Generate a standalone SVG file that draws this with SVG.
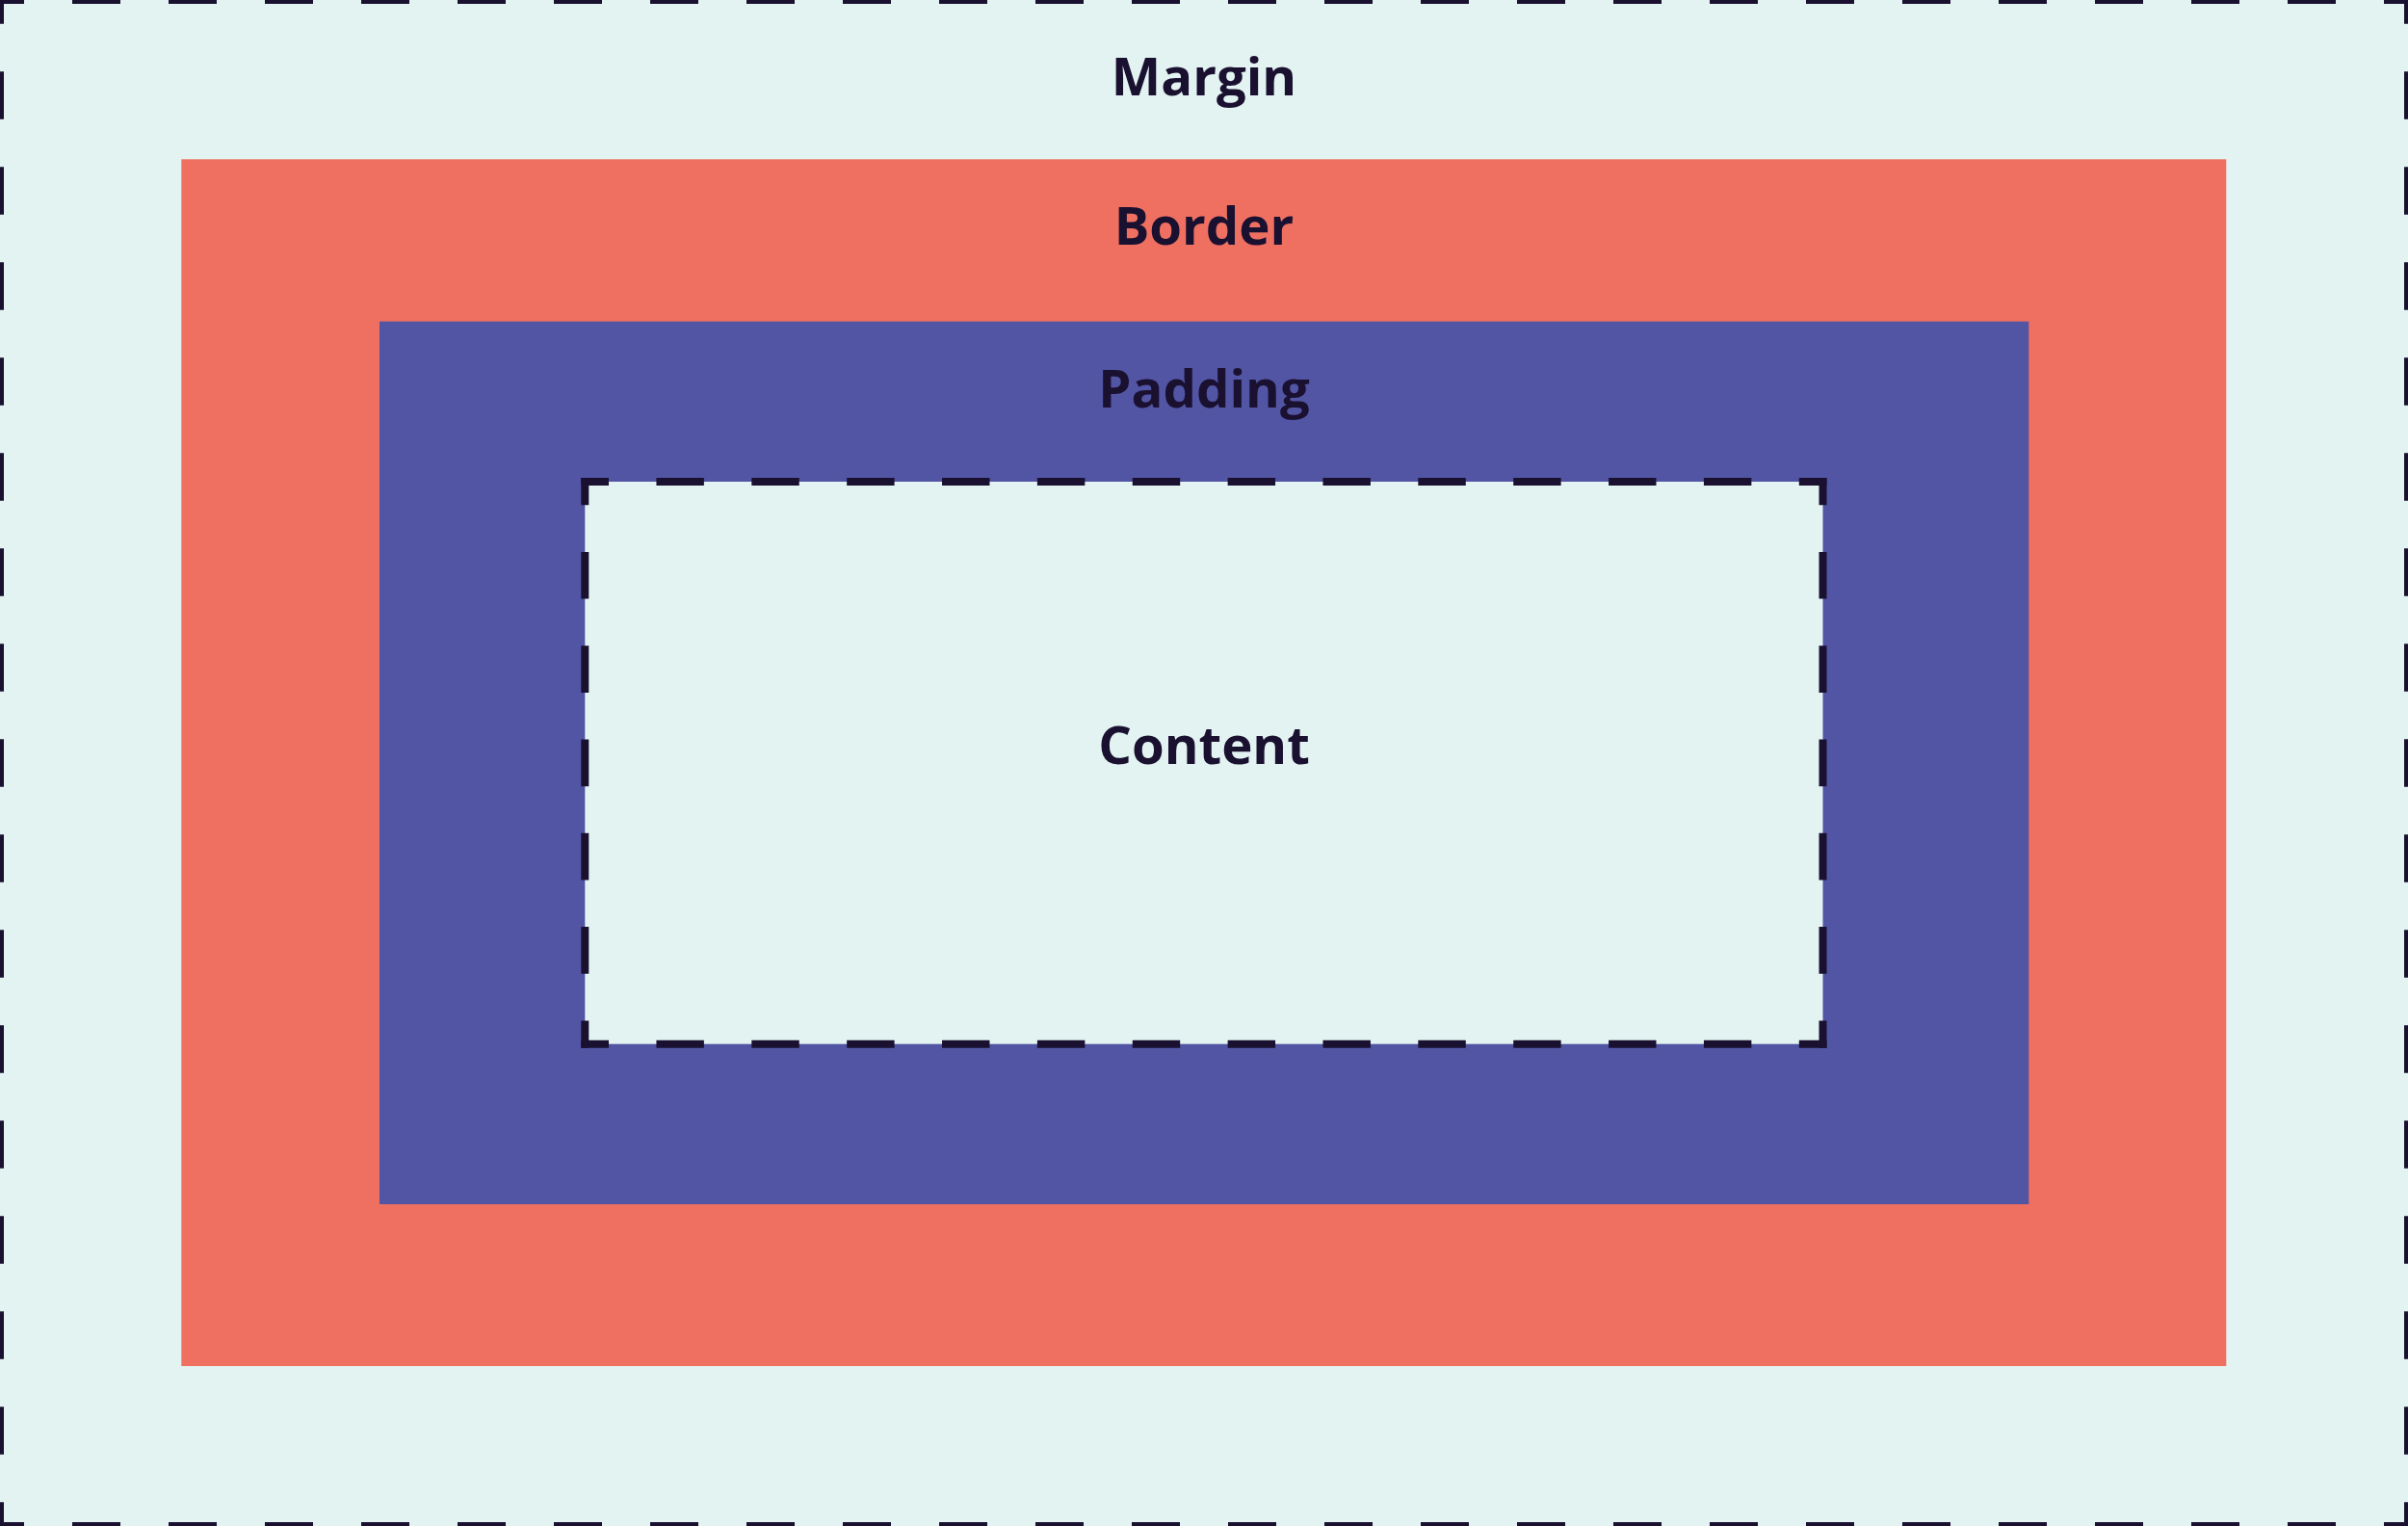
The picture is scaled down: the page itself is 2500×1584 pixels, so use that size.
<svg xmlns="http://www.w3.org/2000/svg" width="2500" height="1584" viewBox="0 0 2500 1584">
  <style>
    .label { font-family: "Open Sans", "Noto Sans", "Liberation Sans", sans-serif; font-weight: 700; font-size: 54.5px; fill: #1a1130; text-anchor: middle; }
    .dash { stroke: #1a1130; stroke-width: 8; stroke-linecap: butt; fill: none; }
  </style>
  <g id="margin">
    <rect x="0" y="0" width="2500" height="1584" fill="#e3f3f2"/>
    <line class="dash" x1="0" y1="0" x2="2500" y2="0" stroke-dasharray="50 50" stroke-dashoffset="25"/>
    <line class="dash" x1="0" y1="1584" x2="2500" y2="1584" stroke-dasharray="50 50" stroke-dashoffset="25"/>
    <line class="dash" x1="0" y1="0" x2="0" y2="1584" stroke-dasharray="49.5 49.5" stroke-dashoffset="24.75"/>
    <line class="dash" x1="2500" y1="0" x2="2500" y2="1584" stroke-dasharray="49.5 49.5" stroke-dashoffset="24.75"/>
    <text class="label" x="1250" y="99">Margin</text>
  </g>
  <g id="border">
    <rect x="188.3" y="165.3" width="2123" height="1252.7" fill="#ef7061"/>
    <text class="label" x="1250" y="254">Border</text>
  </g>
  <g id="padding">
    <rect x="394" y="333.7" width="1712.3" height="916.3" fill="#5254a4"/>
    <text class="label" x="1250" y="423">Padding</text>
  </g>
  <g id="content">
    <rect x="607.3" y="500" width="1285.2" height="583.7" fill="#e3f3f2"/>
    <line class="dash" x1="603.3" y1="500" x2="1896.5" y2="500" stroke-dasharray="49.431 49.431" stroke-dashoffset="20.715"/>
    <line class="dash" x1="603.3" y1="1083.7" x2="1896.5" y2="1083.7" stroke-dasharray="49.431 49.431" stroke-dashoffset="20.715"/>
    <line class="dash" x1="607.3" y1="496" x2="607.3" y2="1087.7" stroke-dasharray="48.642 48.642" stroke-dashoffset="20.321"/>
    <line class="dash" x1="1892.5" y1="496" x2="1892.5" y2="1087.7" stroke-dasharray="48.642 48.642" stroke-dashoffset="20.321"/>
    <text class="label" x="1250" y="793">Content</text>
  </g>
  <g id="connectors"/>
</svg>
